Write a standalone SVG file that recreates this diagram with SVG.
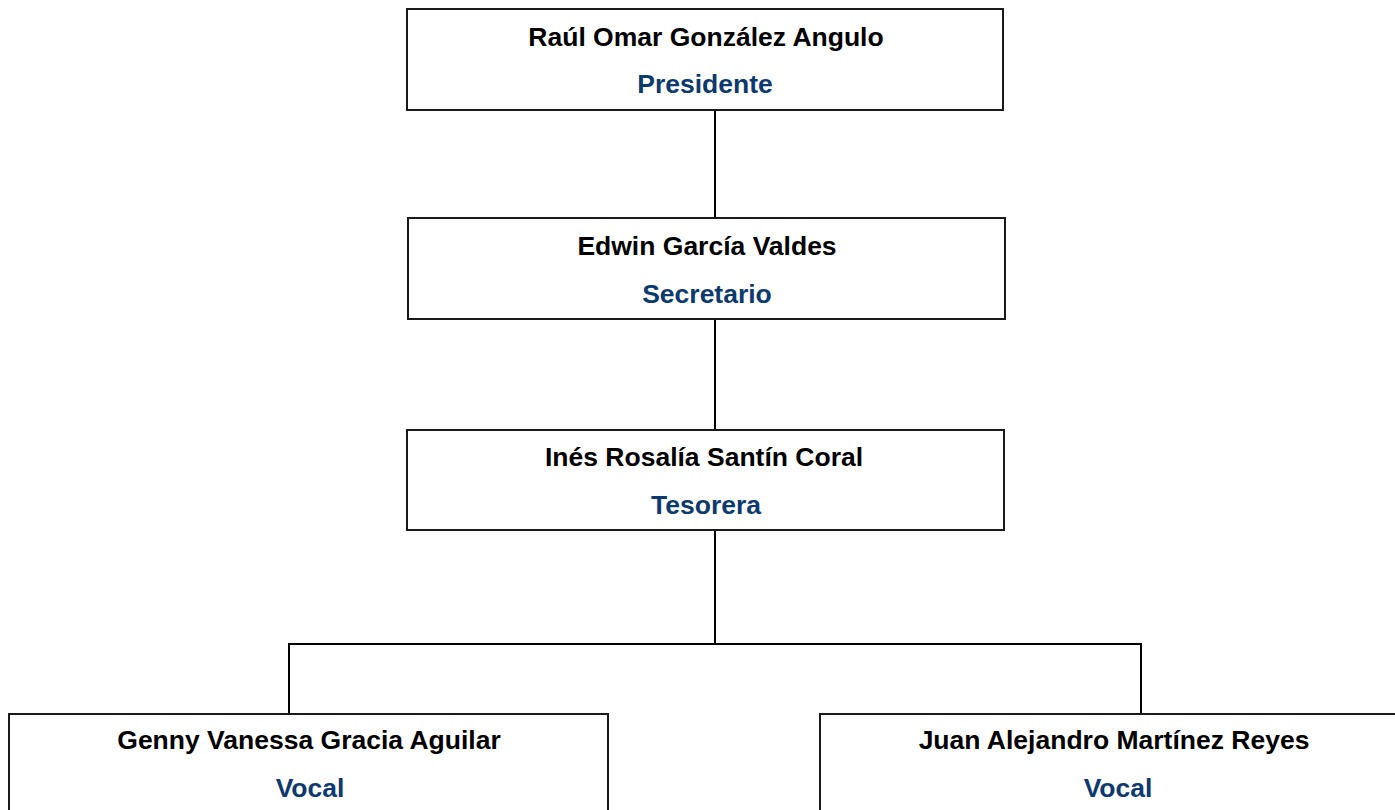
<svg xmlns="http://www.w3.org/2000/svg" width="1395" height="810" viewBox="0 0 1395 810">
<style>
.box{fill:#ffffff;stroke:#1a1a1a;stroke-width:2}
.name{font-family:"Liberation Sans",Arial,sans-serif;font-weight:bold;font-size:26.5px;fill:#000000;text-anchor:middle}
.role{font-family:"Liberation Sans",Arial,sans-serif;font-weight:bold;font-size:26.5px;fill:#0d3a6e;text-anchor:middle}
.conn{fill:none;stroke:#000000;stroke-width:2}
</style>
<rect width="1395" height="810" fill="#ffffff"/>
<g id="connectors">
<line class="conn" x1="715" y1="110" x2="715" y2="218"/>
<line class="conn" x1="715" y1="319" x2="715" y2="430"/>
<line class="conn" x1="715" y1="531" x2="715" y2="644"/>
<polyline class="conn" points="289,714 289,644 1141,644 1141,714"/>
</g>
<g id="node-presidente">
<rect class="box" x="407" y="9" width="596" height="101"/>
<text class="name" x="706" y="46">Raúl Omar González Angulo</text>
<text class="role" x="705" y="93">Presidente</text>
</g>
<g id="node-secretario">
<rect class="box" x="408" y="218" width="597" height="101"/>
<text class="name" x="707" y="255">Edwin García Valdes</text>
<text class="role" x="707" y="303">Secretario</text>
</g>
<g id="node-tesorera">
<rect class="box" x="407" y="430" width="597" height="100"/>
<text class="name" x="704" y="466">Inés Rosalía Santín Coral</text>
<text class="role" x="706" y="514">Tesorera</text>
</g>
<g id="node-vocal-1">
<rect class="box" x="9" y="714" width="599" height="110"/>
<text class="name" x="309" y="749">Genny Vanessa Gracia Aguilar</text>
<text class="role" x="310" y="797">Vocal</text>
</g>
<g id="node-vocal-2">
<rect class="box" x="820" y="714" width="590" height="110"/>
<text class="name" x="1114" y="749">Juan Alejandro Martínez Reyes</text>
<text class="role" x="1118" y="797">Vocal</text>
</g>
</svg>
